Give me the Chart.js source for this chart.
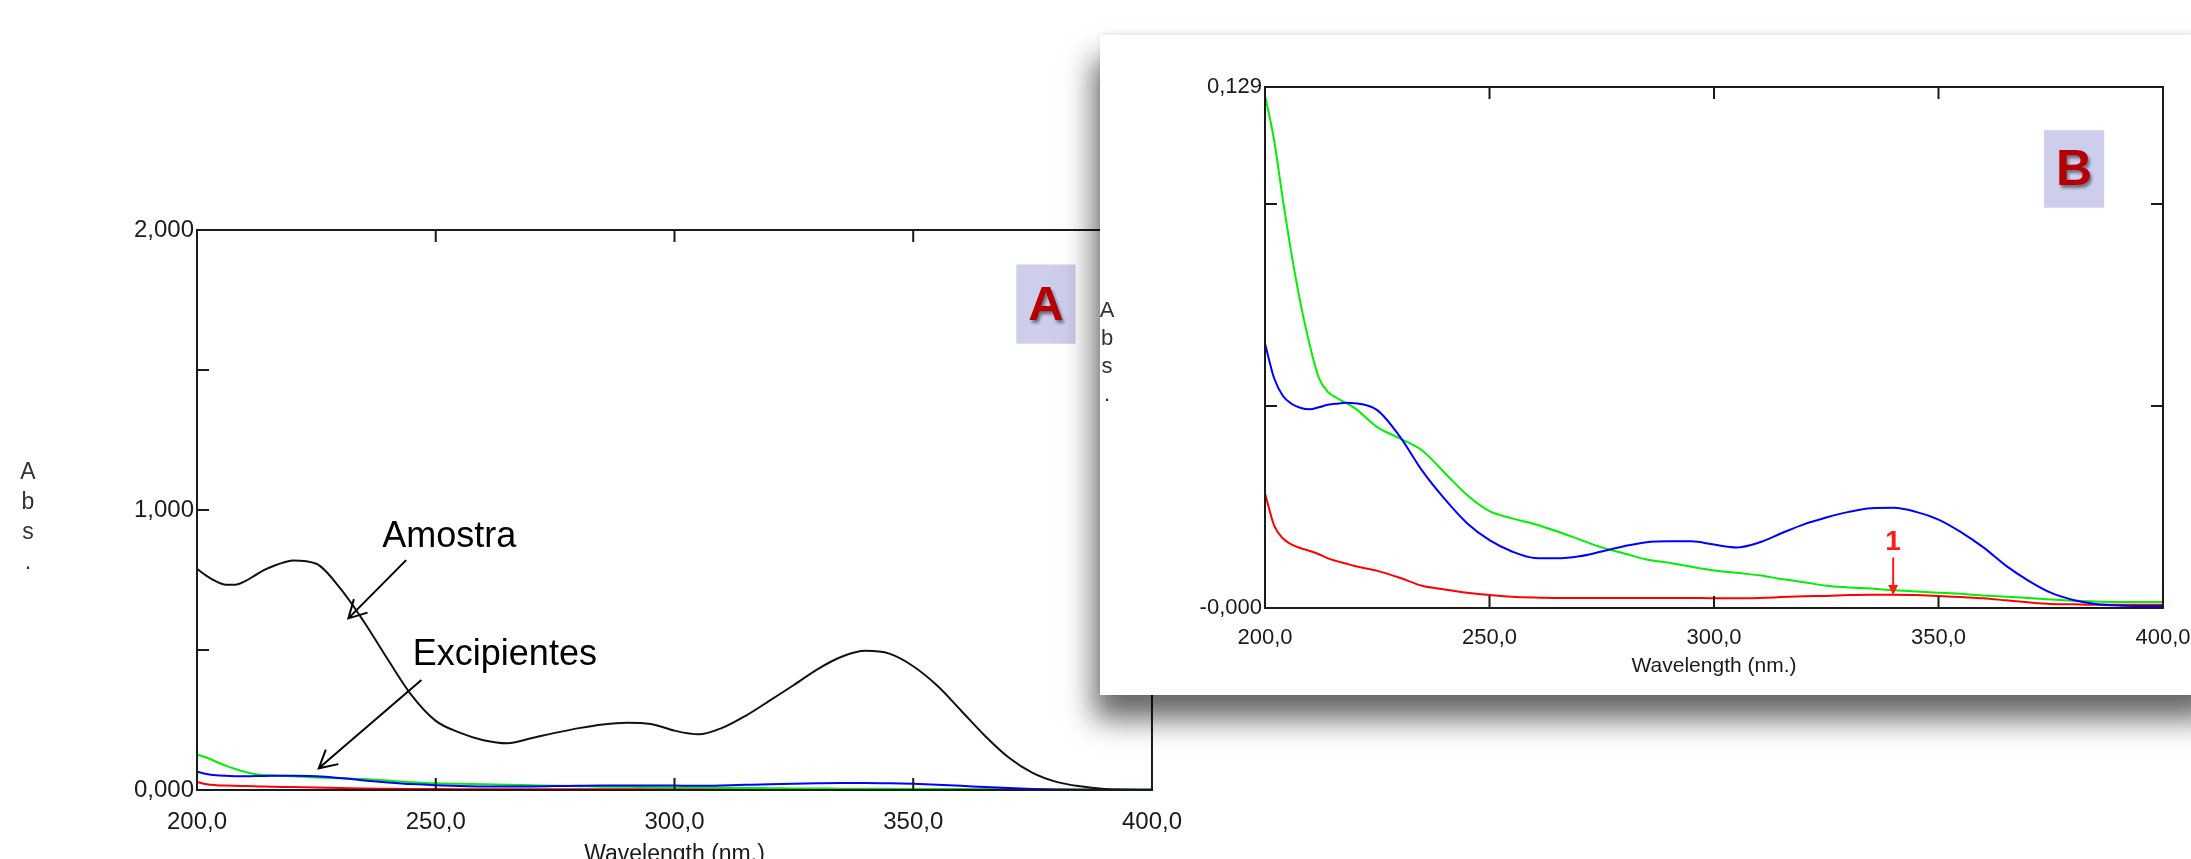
<!DOCTYPE html>
<html>
<head>
<meta charset="utf-8">
<script src="https://cdn.jsdelivr.net/npm/chart.js@4.4.1/dist/chart.umd.min.js"></script>
<style>
  html, body { margin: 0; padding: 0; background: #fff; width: 2191px; height: 859px; overflow: hidden; }
  #zoneA { position: absolute; left: 0; top: 0; width: 1200px; height: 900px; }
  #panneauB {
    position: absolute; left: 1100px; top: 35px; width: 1120px; height: 660px;
    background: #fff; overflow: hidden;
    box-shadow: -6px 24px 28px rgba(0, 0, 0, 0.6), 0 -2px 6px rgba(0, 0, 0, 0.08);
  }
</style>
</head>
<body>
<div id="zoneA"><canvas id="graphA" width="1200" height="900"></canvas></div>
<div id="panneauB"><canvas id="graphB" width="1120" height="660"></canvas></div>
<script>
const longueursOnde = [200, 202, 204, 206, 208, 210, 212, 214, 216, 218, 220, 225, 230, 235, 240, 245, 250,
  255, 260, 265, 270, 275, 280, 285, 290, 295, 300, 305, 310, 315, 320, 325, 330, 335, 340, 345, 350,
  355, 360, 365, 370, 375, 380, 385, 390, 395, 400];

const amostra = [0.79, 0.765, 0.745, 0.733, 0.733, 0.745, 0.765, 0.785, 0.8, 0.812, 0.82, 0.808, 0.72,
  0.6, 0.465, 0.337, 0.247, 0.205, 0.178, 0.167, 0.185, 0.204, 0.221, 0.234, 0.24, 0.236, 0.212, 0.199,
  0.222, 0.266, 0.32, 0.375, 0.432, 0.476, 0.497, 0.487, 0.442, 0.373, 0.284, 0.194, 0.116, 0.061,
  0.029, 0.013, 0.004, 0.001, 0];

const excipientVert = [0.127, 0.116, 0.101, 0.087, 0.075, 0.065, 0.057, 0.0535, 0.052, 0.0508, 0.0495,
  0.0448, 0.042, 0.039, 0.0335, 0.028, 0.024, 0.0222, 0.0208, 0.019, 0.017, 0.015, 0.0135, 0.012,
  0.0112, 0.0102, 0.0093, 0.0087, 0.0081, 0.0072, 0.0064, 0.0055, 0.0051, 0.0048, 0.0044, 0.0041,
  0.0038, 0.0035, 0.0031, 0.0028, 0.0025, 0.0021, 0.0018, 0.0016, 0.0015, 0.0015, 0.0015];

const excipientBleu = [0.0655, 0.057, 0.0525, 0.0505, 0.0495, 0.0492, 0.0497, 0.0503, 0.0506, 0.0508,
  0.0507, 0.049, 0.0425, 0.034, 0.027, 0.021, 0.0168, 0.014, 0.0124, 0.0123, 0.0128, 0.014, 0.0153,
  0.0163, 0.0165, 0.0165, 0.0157, 0.015, 0.0162, 0.0185, 0.0207, 0.0224, 0.0238, 0.0247, 0.0248,
  0.0238, 0.0219, 0.0188, 0.015, 0.0105, 0.0068, 0.0038, 0.002, 0.001, 0.0006, 0.0005, 0.0005];

const excipientRouge = [0.0284, 0.0205, 0.0172, 0.0157, 0.0148, 0.0141, 0.0133, 0.0123, 0.0116, 0.011,
  0.0104, 0.0092, 0.0075, 0.0055, 0.0046, 0.0038, 0.0032, 0.0028, 0.0026, 0.0025, 0.0025, 0.0025,
  0.0025, 0.0025, 0.0025, 0.0025, 0.0024, 0.0024, 0.0025, 0.0027, 0.0029, 0.003, 0.0032, 0.0033,
  0.0033, 0.0032, 0.003, 0.0027, 0.0024, 0.0019, 0.0014, 0.001, 0.0009, 0.0008, 0.0008, 0.0008, 0.0008];

// Graduations et étiquettes des axes
const ticksX = [200, 250, 300, 350, 400];
const etiquettesX = ["200,0", "250,0", "300,0", "350,0", "400,0"];
const ticksYA = [0, 0.5, 1, 1.5, 2];
const etiquettesYA = ["0,000", "", "1,000", "", "2,000"];
const ticksYB = [0, 0.05, 0.1, 0.129];
const etiquettesYB = ["-0,000", "", "", "0,129"];

const police = "'Liberation Sans', Arial, sans-serif";
const couleurTexte = "#1a1a1a";

// Construire une série pour Chart.js
function serie(valeurs, couleur) {
  return {
    data: longueursOnde.map((x, i) => ({ x: x, y: valeurs[i] })),
    borderColor: couleur,
    borderWidth: 2,
    pointRadius: 0,
    cubicInterpolationMode: "monotone",
    clip: 4,
  };
}

// Cadre noir avec graduations tournées vers l'intérieur
function creerCadre(ticksY) {
  return {
    id: "cadre",
    afterDatasetsDraw(chart) {
      const { ctx, chartArea: a, scales } = chart;
      ctx.save();
      ctx.strokeStyle = "#1a1a1a";
      ctx.lineWidth = 2;
      ctx.strokeRect(a.left, a.top, a.right - a.left, a.bottom - a.top);
      ctx.beginPath();
      ticksX.slice(1, -1).forEach((v) => {
        const px = scales.x.getPixelForValue(v);
        ctx.moveTo(px, a.top);
        ctx.lineTo(px, a.top + 12);
        ctx.moveTo(px, a.bottom);
        ctx.lineTo(px, a.bottom - 12);
      });
      ticksY.slice(1, -1).forEach((v) => {
        const py = scales.y.getPixelForValue(v);
        ctx.moveTo(a.left, py);
        ctx.lineTo(a.left + 12, py);
        ctx.moveTo(a.right, py);
        ctx.lineTo(a.right - 12, py);
      });
      ctx.stroke();
      ctx.restore();
    },
  };
}

// Lettres "A b s ." empilées à gauche de l'axe
function dessinerAbs(ctx, x, yCentre, ecart, taille) {
  ctx.save();
  ctx.font = taille + "px " + police;
  ctx.fillStyle = "#333";
  ctx.textAlign = "center";
  ctx.textBaseline = "middle";
  ["A", "b", "s", "."].forEach((l, i) => {
    ctx.fillText(l, x, yCentre + (i - 1.5) * ecart);
  });
  ctx.restore();
}

// Flèche ouverte (deux pointes)
function fleche(ctx, x1, y1, x2, y2, longueur) {
  const ang = Math.atan2(y2 - y1, x2 - x1);
  ctx.beginPath();
  ctx.moveTo(x1, y1);
  ctx.lineTo(x2, y2);
  ctx.moveTo(x2 - longueur * Math.cos(ang - 0.5), y2 - longueur * Math.sin(ang - 0.5));
  ctx.lineTo(x2, y2);
  ctx.lineTo(x2 - longueur * Math.cos(ang + 0.5), y2 - longueur * Math.sin(ang + 0.5));
  ctx.stroke();
}

// Cadre lavande avec la lettre du graphique
function etiquette(ctx, x1, y1, x2, y2, lettre, taille) {
  ctx.save();
  ctx.fillStyle = "#cdcdec";
  ctx.fillRect(x1, y1, x2 - x1, y2 - y1);
  ctx.font = "bold " + taille + "px " + police;
  ctx.textAlign = "center";
  ctx.textBaseline = "middle";
  ctx.shadowColor = "rgba(0,0,0,0.45)";
  ctx.shadowOffsetX = 2;
  ctx.shadowOffsetY = 3;
  ctx.shadowBlur = 3;
  ctx.fillStyle = "#b40000";
  ctx.fillText(lettre, (x1 + x2) / 2, (y1 + y2) / 2 + 2);
  ctx.restore();
}

const annotationsA = {
  id: "annotationsA",
  afterDraw(chart) {
    const { ctx, chartArea: a, scales } = chart;
    const px = (v) => scales.x.getPixelForValue(v);
    const py = (v) => scales.y.getPixelForValue(v);
    dessinerAbs(ctx, a.left - 169, (a.top + a.bottom) / 2 + 8, 30, 23);

    ctx.save();
    ctx.font = "36px " + police;
    ctx.fillStyle = "#000";
    ctx.textBaseline = "alphabetic";
    ctx.fillText("Amostra", px(238.8), py(0.868));
    ctx.fillText("Excipientes", px(245.2), py(0.446));
    ctx.strokeStyle = "#000";
    ctx.lineWidth = 2;
    fleche(ctx, px(243.8), py(0.821), px(231.7), py(0.613), 20);
    fleche(ctx, px(247), py(0.393), px(225.5), py(0.0775), 20);
    ctx.restore();

    etiquette(ctx, px(371.6), py(1.877), px(384), py(1.594), "A", 49);
  },
};

const annotationsB = {
  id: "annotationsB",
  afterDraw(chart) {
    const { ctx, chartArea: a, scales } = chart;
    const px = (v) => scales.x.getPixelForValue(v);
    const py = (v) => scales.y.getPixelForValue(v);
    dessinerAbs(ctx, a.left - 158, (a.top + a.bottom) / 2 + 5, 28, 22);

    // Repère "1" en rouge
    const x1 = px(339.9);
    ctx.save();
    ctx.font = "bold 28px " + police;
    ctx.fillStyle = "#ff1a1a";
    ctx.textAlign = "center";
    ctx.textBaseline = "middle";
    ctx.fillText("1", x1, py(0.0163));
    ctx.strokeStyle = "#ff1a1a";
    ctx.lineWidth = 2;
    const yBas = py(0.0032);
    ctx.beginPath();
    ctx.moveTo(x1, py(0.0125));
    ctx.lineTo(x1, yBas - 6);
    ctx.stroke();
    ctx.beginPath();
    ctx.moveTo(x1 - 5, yBas - 10);
    ctx.lineTo(x1 + 5, yBas - 10);
    ctx.lineTo(x1, yBas);
    ctx.closePath();
    ctx.fill();
    ctx.restore();

    etiquette(ctx, px(373.5), py(0.1183), px(386.9), py(0.0991), "B", 50);
  },
};

// Options communes des deux graphiques
function creerOptions(cfg) {
  return {
    responsive: false,
    animation: false,
    layout: { padding: cfg.marges },
    plugins: { legend: { display: false }, tooltip: { enabled: false } },
    scales: {
      x: {
        type: "linear",
        min: 200,
        max: 400,
        grid: { display: false, drawTicks: false },
        border: { display: false },
        afterBuildTicks: (axe) => {
          axe.ticks = ticksX.map((v) => ({ value: v }));
        },
        ticks: {
          callback: (v, i) => etiquettesX[i],
          font: { family: police, size: cfg.tailleTicks },
          color: couleurTexte,
          padding: cfg.espaceX,
          maxRotation: 0,
          autoSkip: false,
        },
        title: {
          display: true,
          text: "Wavelength (nm.)",
          font: { family: police, size: cfg.tailleTitre },
          color: couleurTexte,
          padding: { top: 0, bottom: cfg.basTitre },
        },
        afterFit: (axe) => {
          axe.height = cfg.hauteurX;
        },
      },
      y: {
        min: cfg.yMin,
        max: cfg.yMax,
        grid: { display: false, drawTicks: false },
        border: { display: false },
        afterBuildTicks: (axe) => {
          axe.ticks = cfg.ticksY.map((v) => ({ value: v }));
        },
        ticks: {
          callback: (v, i) => cfg.etiquettesY[i],
          font: { family: police, size: cfg.tailleTicks },
          color: couleurTexte,
          padding: 3,
          autoSkip: false,
        },
        afterFit: (axe) => {
          axe.width = cfg.largeurY;
        },
      },
    },
  };
}

// Graphique A : échantillon et excipients
new Chart(document.getElementById("graphA"), {
  type: "line",
  data: {
    datasets: [
      serie(amostra, "#111111"),
      serie(excipientBleu, "#0000ff"),
      serie(excipientVert, "#00f000"),
      serie(excipientRouge, "#ff0000"),
    ],
  },
  options: creerOptions({
    marges: { left: 0, right: 39, top: 230, bottom: 0 },
    yMin: 0,
    yMax: 2,
    ticksY: ticksYA,
    etiquettesY: etiquettesYA,
    tailleTicks: 24,
    tailleTitre: 23,
    espaceX: 18,
    basTitre: 32,
    hauteurX: 110,
    largeurY: 197,
  }),
  plugins: [creerCadre(ticksYA), annotationsA],
});

// Graphique B : agrandissement des excipients
new Chart(document.getElementById("graphB"), {
  type: "line",
  data: {
    datasets: [
      serie(excipientBleu, "#0000ff"),
      serie(excipientVert, "#00f000"),
      serie(excipientRouge, "#ff0000"),
    ],
  },
  options: creerOptions({
    marges: { left: 0, right: 57, top: 52, bottom: 0 },
    yMin: 0,
    yMax: 0.129,
    ticksY: ticksYB,
    etiquettesY: etiquettesYB,
    tailleTicks: 22,
    tailleTitre: 21,
    espaceX: 17,
    basTitre: 16,
    hauteurX: 87,
    largeurY: 165,
  }),
  plugins: [creerCadre(ticksYB), annotationsB],
});
</script>
</body>
</html>
